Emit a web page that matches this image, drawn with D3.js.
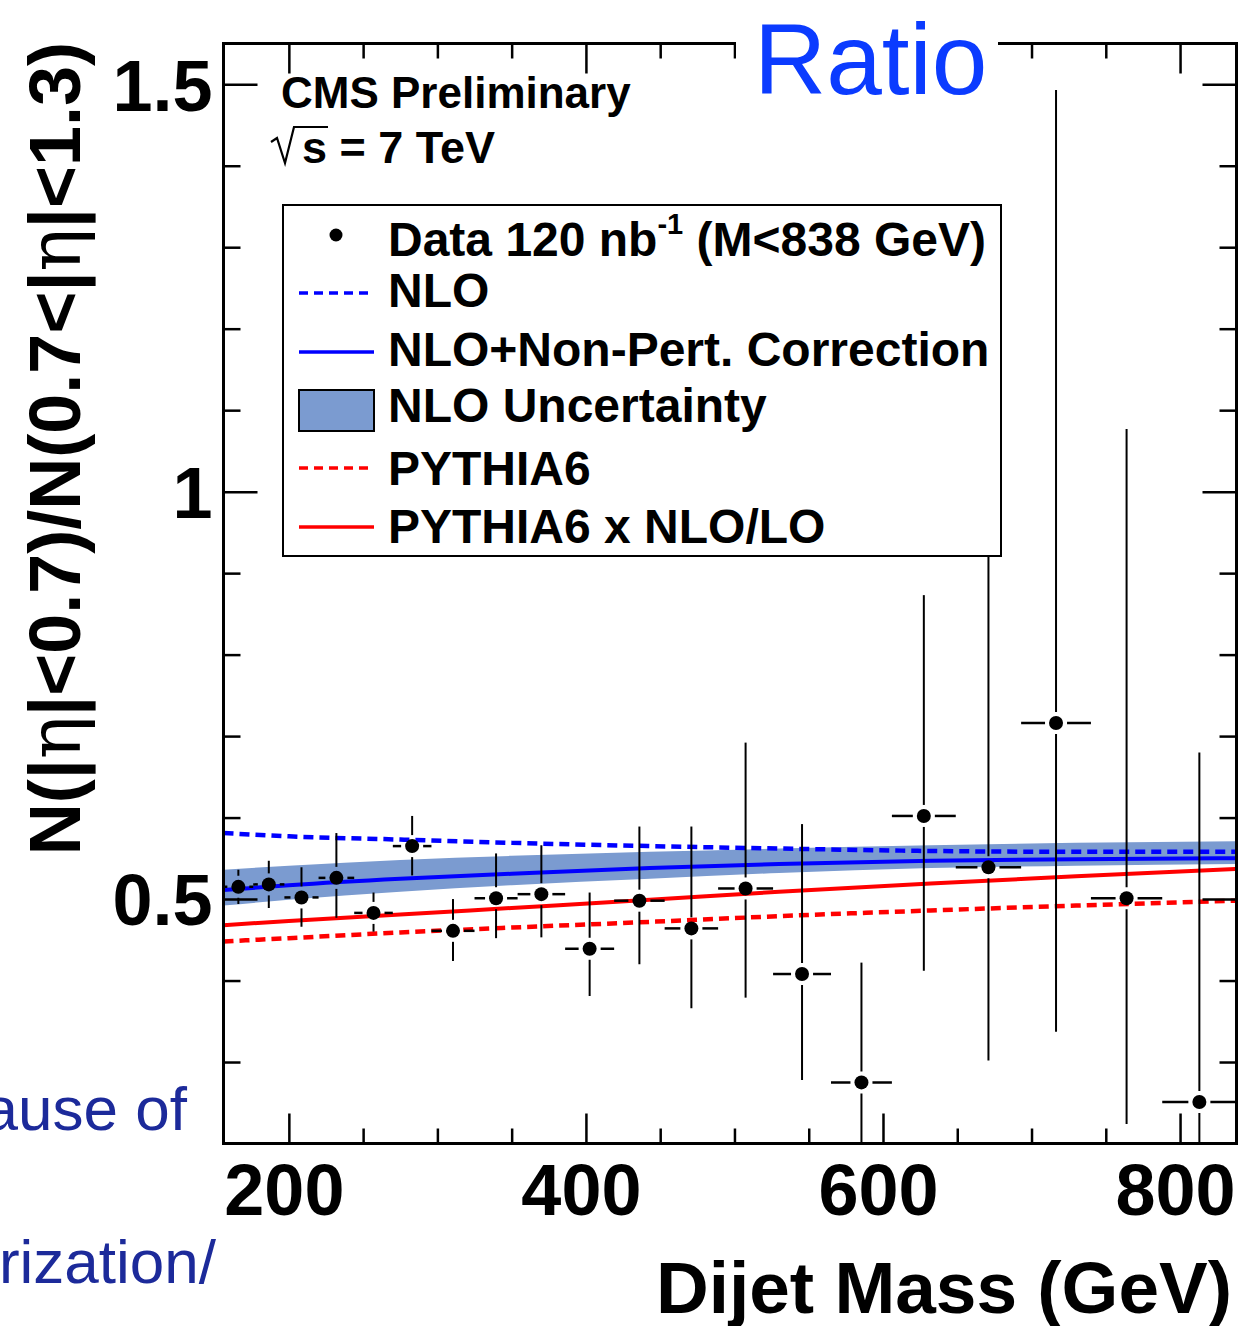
<!DOCTYPE html>
<html>
<head>
<meta charset="utf-8">
<script src="https://cdn.jsdelivr.net/npm/d3@7"></script>
<style>
body { margin: 0; background: #fff; }
svg { display: block; }
text { font-family: "Liberation Sans", Arial, sans-serif; }
</style>
</head>
<body>
<div id="chart"></div>
<script>
// ---- data ----
// dijet mass bins (GeV)
const binEdges = [156, 176, 197, 220, 244, 270, 296, 325, 354, 386, 419, 453, 489, 526, 565, 606, 649, 693, 740, 788, 838];
const massPoints = [166, 186.5, 208.5, 232, 257, 283, 310.5, 339.5, 370, 402.5, 436, 471, 507.5, 545.5, 585.5, 627.5, 671, 716.5, 764, 813];
const ratio   = [0.515, 0.518, 0.502, 0.526, 0.483, 0.565, 0.461, 0.501, 0.506, 0.439, 0.498, 0.464, 0.513, 0.408, 0.275, 0.602, 0.539, 0.716, 0.501, 0.251];
const errUp   = [0.021, 0.029, 0.037, 0.055, 0.025, 0.037, 0.039, 0.055, 0.060, 0.069, 0.091, 0.125, 0.179, 0.184, 0.147, 0.271, 0.550, 0.777, 0.576, 0.429];
const errDown = [0.021, 0.029, 0.036, 0.049, 0.023, 0.036, 0.037, 0.049, 0.053, 0.058, 0.078, 0.098, 0.134, 0.130, 0.200, 0.190, 0.237, 0.379, 0.277, 0.250];

// theory curves
const curveMass = [156, 200, 275, 350, 443, 530, 632, 730, 838];
const nlo       = [0.581, 0.577, 0.573, 0.569, 0.565, 0.562, 0.559, 0.558, 0.558];
const nloNP     = [0.511, 0.517, 0.525, 0.531, 0.538, 0.543, 0.547, 0.549, 0.550];
const bandLo    = [0.492, 0.499, 0.509, 0.517, 0.525, 0.532, 0.538, 0.541, 0.543];
const bandHi    = [0.536, 0.541, 0.548, 0.553, 0.558, 0.562, 0.566, 0.569, 0.571];
const pythia    = [0.448, 0.452, 0.459, 0.465, 0.472, 0.479, 0.486, 0.492, 0.498];
const pythiaNLO = [0.468, 0.473, 0.481, 0.489, 0.499, 0.509, 0.519, 0.528, 0.537];

// ticks
const xMajor = [200, 400, 600, 800];
const xMinor = [250, 300, 350, 450, 500, 550, 650, 700, 750];
const yMajor = [0.5, 1, 1.5];
const yMinor = [0.3, 0.4, 0.6, 0.7, 0.8, 0.9, 1.1, 1.2, 1.3, 1.4];

const legendLabels = ["Data 120 nb", "NLO", "NLO+Non-Pert. Correction", "NLO Uncertainty", "PYTHIA6", "PYTHIA6 x NLO/LO"];

// ---- layout ----
const width = 1245, height = 1326;
const L = 223.5, R = 1236.5, T = 43.5, B = 1143.5;

const svg = d3.select("#chart").append("svg")
    .attr("width", width)
    .attr("height", height)
    .attr("viewBox", `0 0 ${width} ${height}`);

svg.append("rect").attr("width", width).attr("height", height).attr("fill", "#fff");

const x = d3.scaleLinear().domain([156, 838]).range([L, R]);
const y = d3.scaleLinear().domain([0.2, 1.55]).range([B, T]);

svg.append("clipPath").attr("id", "frameClip")
    .append("rect").attr("x", L).attr("y", T).attr("width", R - L).attr("height", B - T);

const plot = svg.append("g").attr("clip-path", "url(#frameClip)");

// 理論の帯 (NLO uncertainty)
const bandData = curveMass.map((m, i) => ({m, lo: bandLo[i], hi: bandHi[i]}));
plot.append("path")
    .datum(bandData)
    .attr("fill", "#7b9bd0")
    .attr("d", d3.area().curve(d3.curveMonotoneX)
        .x(d => x(d.m)).y0(d => y(d.lo)).y1(d => y(d.hi)));

const line = d3.line().curve(d3.curveMonotoneX).x(d => x(d.m)).y(d => y(d.v));
const curves = [
    {vals: nlo, color: "#0000ff", dash: "10,6"},
    {vals: nloNP, color: "#0000ff", dash: null},
    {vals: pythia, color: "#ff0000", dash: "10,6"},
    {vals: pythiaNLO, color: "#ff0000", dash: null}
];
curves.forEach(c => {
    plot.append("path")
        .datum(curveMass.map((m, i) => ({m, v: c.vals[i]})))
        .attr("fill", "none")
        .attr("stroke", c.color)
        .attr("stroke-width", c.dash ? 4.5 : 4)
        .attr("stroke-dasharray", c.dash)
        .attr("d", line);
});

// data points with error bars (ROOT style: bars stop short of the marker)
const gap = 11;
const pts = massPoints.map((m, i) => ({
    m, v: ratio[i], up: ratio[i] + errUp[i], dn: ratio[i] - errDown[i],
    lo: binEdges[i], hi: binEdges[i + 1]
}));
const eb = plot.append("g").attr("stroke", "#000");
pts.forEach(p => {
    const cx = x(p.m), cy = y(p.v);
    if (y(p.up) < cy - gap) eb.append("line").attr("x1", cx).attr("x2", cx).attr("y1", y(p.up)).attr("y2", cy - gap).attr("stroke-width", 2);
    if (y(p.dn) > cy + gap) eb.append("line").attr("x1", cx).attr("x2", cx).attr("y1", cy + gap).attr("y2", y(p.dn)).attr("stroke-width", 2);
    eb.append("line").attr("x1", x(p.lo)).attr("x2", cx - gap).attr("y1", cy).attr("y2", cy).attr("stroke-width", 2.5);
    eb.append("line").attr("x1", cx + gap).attr("x2", x(p.hi)).attr("y1", cy).attr("y2", cy).attr("stroke-width", 2.5);
});
plot.selectAll("circle.pt").data(pts).enter().append("circle")
    .attr("class", "pt")
    .attr("cx", d => x(d.m)).attr("cy", d => y(d.v)).attr("r", 7)
    .attr("fill", "#000");

// ---- axes (ticks inside the frame) ----
const fontTick = 72;
function styleAxis(g) {
    g.select(".domain").remove();
    g.selectAll(".tick line").attr("stroke", "#000").attr("stroke-width", 2.5);
}
svg.append("g").attr("transform", `translate(${L},0)`)
    .call(d3.axisLeft(y).tickValues(yMajor).tickSize(-34).tickPadding(11).tickFormat(d => String(d)))
    .call(styleAxis)
    .selectAll("text").attr("font-size", fontTick).attr("font-weight", "bold")
    .attr("fill", "#000").attr("dy", "0.36em");
svg.append("g").attr("transform", `translate(${L},0)`)
    .call(d3.axisLeft(y).tickValues(yMinor).tickSize(-17).tickFormat(""))
    .call(styleAxis);
svg.append("g").attr("transform", `translate(${R},0)`)
    .call(d3.axisRight(y).tickValues(yMajor).tickSize(-34).tickFormat(""))
    .call(styleAxis);
svg.append("g").attr("transform", `translate(${R},0)`)
    .call(d3.axisRight(y).tickValues(yMinor).tickSize(-17).tickFormat(""))
    .call(styleAxis);

svg.append("g").attr("transform", `translate(0,${B})`)
    .call(d3.axisBottom(x).tickValues(xMajor).tickSize(-30).tickPadding(20).tickFormat(d => String(d)))
    .call(styleAxis)
    .selectAll("text").attr("font-size", fontTick).attr("font-weight", "bold")
    .attr("fill", "#000").attr("dx", -5).attr("dy", "0.71em");
svg.append("g").attr("transform", `translate(0,${B})`)
    .call(d3.axisBottom(x).tickValues(xMinor).tickSize(-15).tickFormat(""))
    .call(styleAxis);
svg.append("g").attr("transform", `translate(0,${T})`)
    .call(d3.axisTop(x).tickValues(xMajor).tickSize(-30).tickFormat(""))
    .call(styleAxis);
svg.append("g").attr("transform", `translate(0,${T})`)
    .call(d3.axisTop(x).tickValues(xMinor).tickSize(-15).tickFormat(""))
    .call(styleAxis);

// frame
svg.append("rect")
    .attr("x", L).attr("y", T).attr("width", R - L).attr("height", B - T)
    .attr("fill", "none").attr("stroke", "#000").attr("stroke-width", 3);

// ---- legend ----
const lg = svg.append("g");
lg.append("rect").attr("x", 283).attr("y", 205).attr("width", 718).attr("height", 351)
    .attr("fill", "#fff").attr("stroke", "#000").attr("stroke-width", 2);
const rowBase = [256, 307, 366, 422, 485, 543];
const lgText = lg.selectAll("text.lg").data(legendLabels).enter().append("text")
    .attr("class", "lg")
    .attr("x", 388).attr("y", (d, i) => rowBase[i])
    .attr("font-size", 48).attr("font-weight", "bold").attr("fill", "#000")
    .text(d => d);
const dataLabel = lgText.filter((d, i) => i === 0);
dataLabel.append("tspan").attr("font-size", 29).attr("dy", -22).text("-1");
dataLabel.append("tspan").attr("dy", 22).text(" (M<838 GeV)");

lg.append("circle").attr("cx", 336).attr("cy", 235).attr("r", 6.5).attr("fill", "#000");
lg.append("line").attr("x1", 299).attr("x2", 372).attr("y1", 293).attr("y2", 293)
    .attr("stroke", "#0000ff").attr("stroke-width", 3.5).attr("stroke-dasharray", "9,6");
lg.append("line").attr("x1", 299).attr("x2", 374).attr("y1", 352).attr("y2", 352)
    .attr("stroke", "#0000ff").attr("stroke-width", 3.5);
lg.append("rect").attr("x", 299).attr("y", 390).attr("width", 75).attr("height", 41)
    .attr("fill", "#7b9bd0").attr("stroke", "#000").attr("stroke-width", 2);
lg.append("line").attr("x1", 299).attr("x2", 372).attr("y1", 468).attr("y2", 468)
    .attr("stroke", "#ff0000").attr("stroke-width", 3.5).attr("stroke-dasharray", "9,6");
lg.append("line").attr("x1", 299).attr("x2", 374).attr("y1", 527).attr("y2", 527)
    .attr("stroke", "#ff0000").attr("stroke-width", 3.5);

// ---- texts ----
svg.append("text").attr("x", 281).attr("y", 108)
    .attr("font-size", 44).attr("font-weight", "bold").text("CMS Preliminary");
svg.append("path").attr("d", "M271,142 L277,138 L285,163 L294,127 L328,127")
    .attr("fill", "none").attr("stroke", "#000").attr("stroke-width", 2.2);
svg.append("text").attr("x", 302).attr("y", 163)
    .attr("font-size", 45).attr("font-weight", "bold").text("s = 7 TeV");

// y title
const yt = svg.append("text")
    .attr("transform", "translate(80,42) rotate(-90)")
    .attr("text-anchor", "end")
    .attr("font-size", 72).attr("font-weight", "bold");
const eta = t => yt.append("tspan").attr("font-weight", "normal").attr("font-family", "DejaVu Serif").text(t);
yt.append("tspan").text("N(|");
eta("η");
yt.append("tspan").text("|<0.7)/N(0.7<|");
eta("η");
yt.append("tspan").text("|<1.3)");

// x title
svg.append("text").attr("x", 1232).attr("y", 1313)
    .attr("text-anchor", "end")
    .attr("font-size", 73).attr("font-weight", "bold").text("Dijet Mass (GeV)");

// slide overlay: "Ratio" over the top of the frame
svg.append("rect").attr("x", 736).attr("y", 0).attr("width", 262).attr("height", 80).attr("fill", "#fff");
svg.append("text").attr("x", 754).attr("y", 94)
    .attr("font-family", "Lato, 'Open Sans', sans-serif")
    .attr("font-size", 100).attr("fill", "#0b3bff").text("Ratio");

// slide text fragments on the left
svg.append("text").attr("x", 187).attr("y", 1130).attr("text-anchor", "end")
    .attr("font-family", "Lato, 'Open Sans', sans-serif")
    .attr("font-size", 62).attr("fill", "#1c2a9a").text("ause of");
svg.append("text").attr("x", 216).attr("y", 1283).attr("text-anchor", "end")
    .attr("font-family", "Lato, 'Open Sans', sans-serif")
    .attr("font-size", 62).attr("fill", "#1c2a9a").text("rization/");
</script>
</body>
</html>
